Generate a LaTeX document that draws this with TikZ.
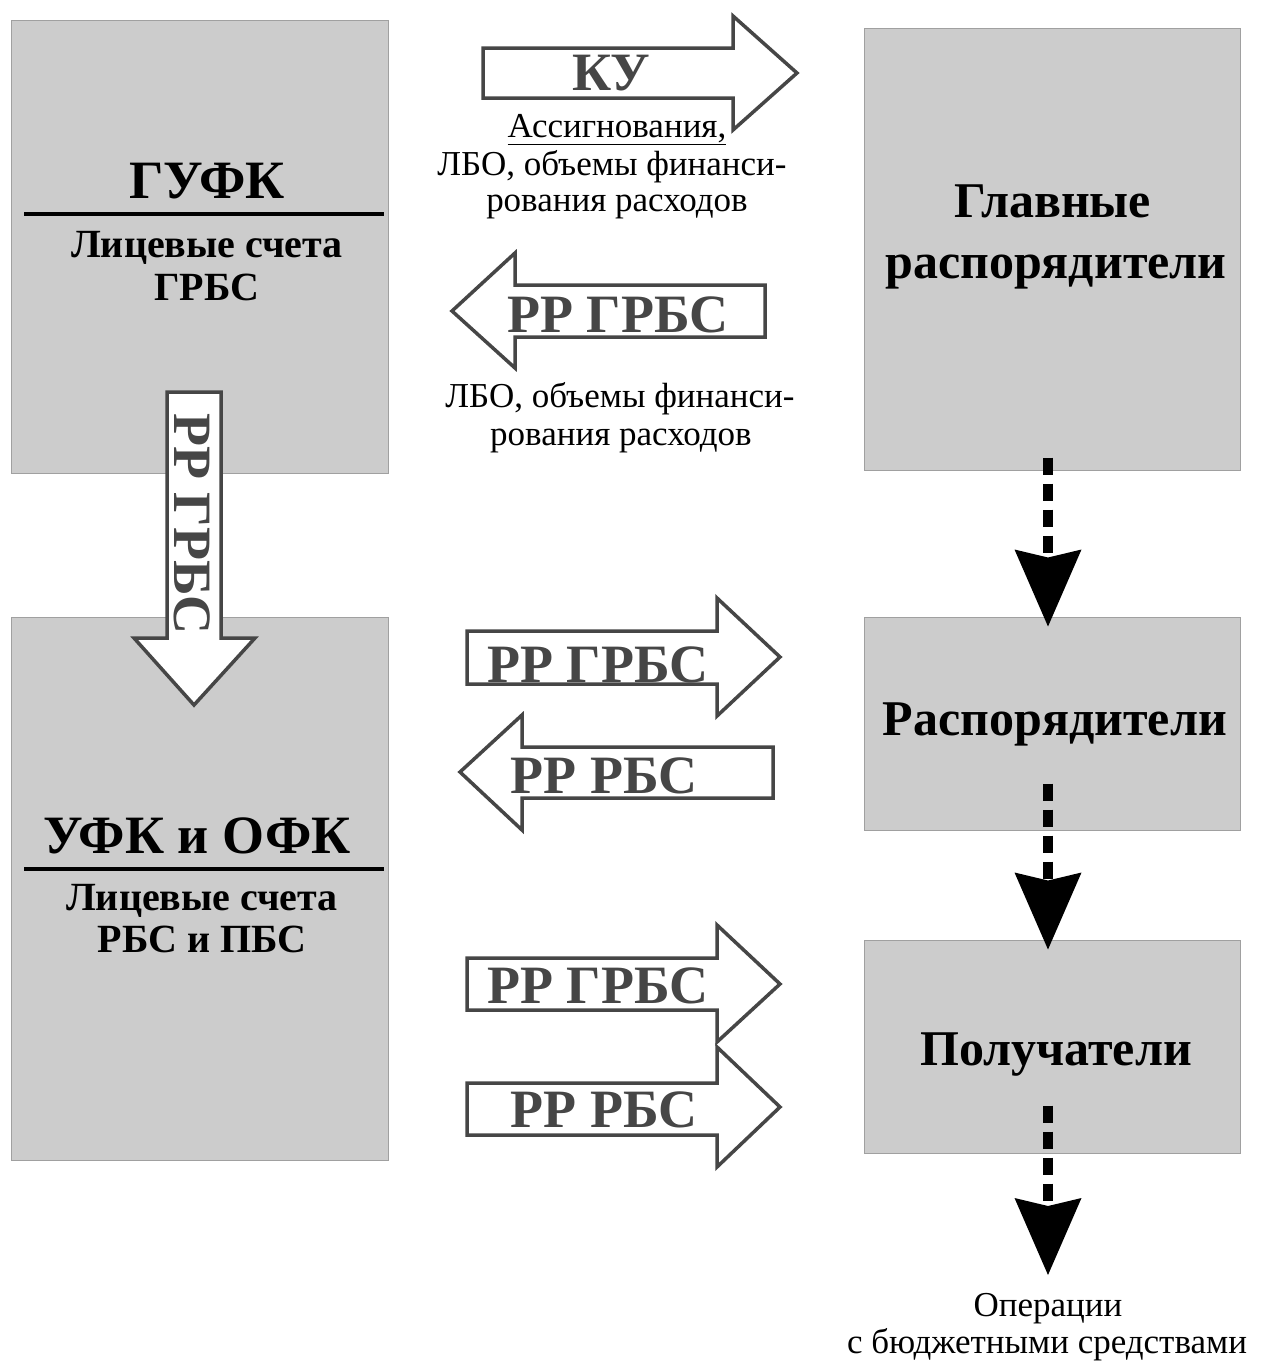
\documentclass[tikz,border=0pt]{standalone}
\usepackage{fontspec}
\setmainfont{Liberation Serif}
\usetikzlibrary{arrows.meta,calc}
\definecolor{boxfill}{HTML}{CCCCCC}
\definecolor{boxline}{HTML}{A0A0A0}
\definecolor{arrgray}{HTML}{464646}
\begin{document}
\begin{tikzpicture}[x=1pt,y=-1pt,
  box/.style={draw=boxline, line width=1pt, fill=boxfill, inner sep=0pt},
  bl/.style={anchor=base, inner sep=0pt, font=\fontsize{50}{50}\selectfont\bfseries},
  tl/.style={anchor=base, inner sep=0pt, font=\fontsize{54}{54}\selectfont\bfseries},
  sl/.style={anchor=base, inner sep=0pt, font=\fontsize{40}{40}\selectfont\bfseries},
  al/.style={anchor=base, inner sep=0pt, text=arrgray, font=\fontsize{54}{54}\selectfont\bfseries},
  rl/.style={anchor=base, inner sep=0pt, font=\fontsize{35}{35}\selectfont},
  harrow/.style={draw=arrgray, line width=3.5pt, fill=white, line join=miter},
  divline/.style={draw=black, line width=3.5pt},
  dashconn/.style={line width=10pt, dash pattern=on 17pt off 9pt,
    -{Stealth[length=77pt, width=67pt, inset=8pt, line width=0pt]}}
]
\useasboundingbox (0,0) rectangle (1265,1369);
\fill[white] (0,0) rectangle (1265,1369);

% boxes
\node[box, minimum width=377pt, minimum height=453pt] (gufk) at (199.5,246.5) {};
\node[box, minimum width=377pt, minimum height=543pt] (ufk) at (199.5,888.5) {};
\node[box, minimum width=376pt, minimum height=442pt] (glav) at (1052,249) {};
\node[box, minimum width=376pt, minimum height=213pt] (rasp) at (1052,723.5) {};
\node[box, minimum width=376pt, minimum height=213pt] (pol) at (1052,1046.5) {};

% left box texts
\node[tl] (t1) at (207,198) {ГУФК};
\draw[divline] (24,214) -- (384,214);
\node[sl] (t2) at (207,257) {Лицевые счета};
\node[sl] (t3) at (207,300) {ГРБС};

\node[tl] (t4) at (197,853) {УФК и ОФК};
\draw[divline] (24,869) -- (384,869);
\node[sl] (t5) at (202,910) {Лицевые счета};
\node[sl] (t6) at (202,952) {РБС и ПБС};

% right box texts
\node[bl] (t7) at (1053,217) {Главные};
\node[bl] (t8) at (1056,278) {распорядители};
\node[bl] (t9) at (1055,735) {Распорядители};
\node[bl] (t10) at (1056,1065) {Получатели};

% hollow arrows
\draw[harrow] (483,48) -- (733,48) -- (733,16) -- (797,73) -- (733,130) -- (733,98) -- (483,98) -- cycle;
\node[al] (a1) at (611,90) {КУ};
\draw[harrow] (765,285) -- (515,285) -- (515,253) -- (452,311) -- (515,368) -- (515,337) -- (765,337) -- cycle;
\node[al] (a2) at (618,332) {РР ГРБС};
\draw[harrow] (167,392) -- (221,392) -- (221,638) -- (255,638) -- (194,705) -- (134,638) -- (167,638) -- cycle;
\node[al, rotate=-90] (a3) at (174,524) {РР ГРБС};
\draw[harrow] (467,631) -- (717,631) -- (717,598) -- (780,657) -- (717,716) -- (717,684) -- (467,684) -- cycle;
\node[al] (a4) at (598,682) {РР ГРБС};
\draw[harrow] (773,747) -- (522,747) -- (522,715) -- (460,772) -- (522,830) -- (522,798) -- (773,798) -- cycle;
\node[al] (a5) at (604,793) {РР РБС};
\draw[harrow] (467,958) -- (717,958) -- (717,925) -- (780,984) -- (717,1042) -- (717,1010) -- (467,1010) -- cycle;
\node[al] (a6) at (598,1003) {РР ГРБС};
\draw[harrow] (467,1083) -- (717,1083) -- (717,1047) -- (780,1107) -- (717,1167) -- (717,1135) -- (467,1135) -- cycle;
\node[al] (a7) at (604,1127) {РР РБС};

% regular texts
\node[rl] (r1) at (617,137) {\underline{Ассигнования,}};
\node[rl] (r2) at (612,175) {ЛБО, объемы финанси-};
\node[rl] (r3) at (617,211) {рования расходов};
\node[rl] (r4) at (620,407) {ЛБО, объемы финанси-};
\node[rl] (r5) at (621,445) {рования расходов};

% dashed connectors
\coordinate (opend) at (1048,1275);
\draw[dashconn] ($(glav.south)+(-4,-13)$) -- ($(rasp.north)+(-4,10)$);
\draw[dashconn] ($(rasp.south)+(-4,-47)$) -- ($(pol.north)+(-4,10)$);
\draw[dashconn] ($(pol.south)+(-4,-48)$) -- (opend);

\node[rl] (o1) at (1048,1316) {Операции};
\node[rl] (o2) at (1047,1353) {с бюджетными средствами};
\end{tikzpicture}
\end{document}
